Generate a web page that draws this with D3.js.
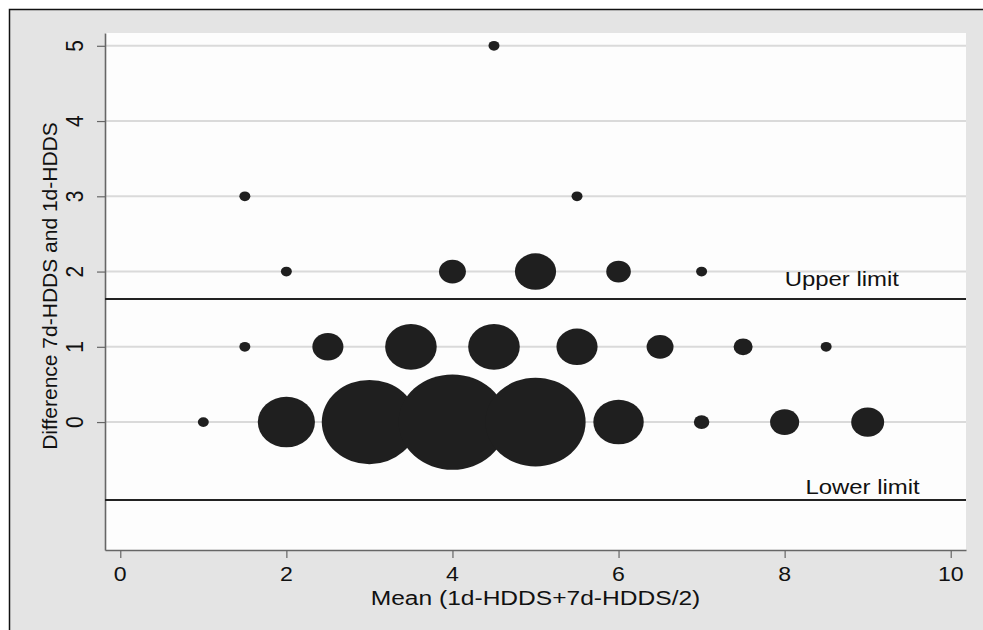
<!DOCTYPE html>
<html>
<head>
<meta charset="utf-8">
<script src="https://cdn.jsdelivr.net/npm/d3@7"></script>
<style>
  html, body { margin: 0; padding: 0; background: #fff; }
  text { font-family: "Liberation Sans", Arial, sans-serif; fill: #111; }
</style>
</head>
<body>
<div id="chart"></div>
<script>
// Bland-Altman points: mean of the two scores, difference, number of households
const meanScore = [1, 2, 3, 4, 5, 6, 7, 8, 9,
                   1.5, 2.5, 3.5, 4.5, 5.5, 6.5, 7.5, 8.5,
                   2, 4, 5, 6, 7,
                   1.5, 5.5,
                   4.5];
const diffScore = [0, 0, 0, 0, 0, 0, 0, 0, 0,
                   1, 1, 1, 1, 1, 1, 1, 1,
                   2, 2, 2, 2, 2,
                   3, 3,
                   5];
const freq      = [1, 27, 75, 96, 83, 21, 2, 7, 9,
                   1, 8, 22, 22, 14, 6, 3, 1,
                   1, 6, 14, 5, 1,
                   1, 1,
                   1];

const xTicks = [0, 2, 4, 6, 8, 10];
const yTicks = [0, 1, 2, 3, 4, 5];
const limits = [{ name: "Upper limit", value: 1.634, at: 8 },
                { name: "Lower limit", value: -1.036, at: 8.25 }];

const width = 983, height = 630;
const plot = { left: 105, right: 966, top: 33, bottom: 550 };

const svg = d3.select("#chart").append("svg")
    .attr("width", width)
    .attr("height", height);

// outer graph region
svg.append("rect")
    .attr("x", 9.5).attr("y", 9.5)
    .attr("width", 1000).attr("height", 1000)
    .attr("fill", "#e4e4e4")
    .attr("stroke", "#111")
    .attr("stroke-width", 1.5);

svg.append("rect")
    .attr("x", plot.left).attr("y", plot.top)
    .attr("width", plot.right - plot.left)
    .attr("height", plot.bottom - plot.top)
    .attr("fill", "#fdfdfd");

const x = d3.scaleLinear().domain([-0.184, 10.184]).range([plot.left, plot.right]);
const y = d3.scaleLinear().domain([-1.70, 5.17]).range([plot.bottom, plot.top]);
const r = d3.scaleSqrt().domain([0, 1]).range([0, 5.5]); // area ~ frequency

// grid lines
svg.append("g")
    .selectAll("line")
    .data(yTicks)
    .enter().append("line")
    .attr("x1", plot.left).attr("x2", plot.right)
    .attr("y1", d => y(d)).attr("y2", d => y(d))
    .attr("stroke", "#dadada")
    .attr("stroke-width", 2);

// axes
const xAxis = svg.append("g")
    .attr("transform", `translate(0,${plot.bottom})`)
    .call(d3.axisBottom(x).tickValues(xTicks).tickSize(8).tickSizeOuter(0).tickFormat(""));
const yAxis = svg.append("g")
    .attr("transform", `translate(${plot.left},0)`)
    .call(d3.axisLeft(y).tickValues(yTicks).tickSize(8).tickSizeOuter(0).tickFormat(""));
[xAxis, yAxis].forEach(a => {
    a.select(".domain").attr("stroke", "#666").attr("stroke-width", 1.6);
    a.selectAll(".tick line").attr("stroke", "#666").attr("stroke-width", 1.2);
});

// tick labels (the picture is stretched a bit sideways)
svg.append("g")
    .selectAll("text")
    .data(xTicks)
    .enter().append("text")
    .attr("transform", d => `translate(${x(d)},581) scale(1.1,1)`)
    .attr("text-anchor", "middle")
    .style("font-size", "21px")
    .text(d => d);

svg.append("g")
    .selectAll("text")
    .data(yTicks)
    .enter().append("text")
    .attr("transform", d => `translate(83,${y(d)}) rotate(-90) scale(1,1.1)`)
    .attr("text-anchor", "middle")
    .style("font-size", "21px")
    .text(d => d);

// bubbles
const pts = meanScore.map((m, i) => ({ m: m, d: diffScore[i], n: freq[i] }));
svg.append("g")
    .selectAll("ellipse")
    .data(pts)
    .enter().append("ellipse")
    .attr("cx", d => x(d.m))
    .attr("cy", d => y(d.d))
    .attr("rx", d => r(d.n))
    .attr("ry", d => r(d.n) * 0.885)
    .attr("fill", "#1f1f1f");

// limits of agreement
svg.append("g")
    .selectAll("line")
    .data(limits)
    .enter().append("line")
    .attr("x1", plot.left).attr("x2", plot.right)
    .attr("y1", d => y(d.value)).attr("y2", d => y(d.value))
    .attr("stroke", "#222")
    .attr("stroke-width", 2);

svg.append("g")
    .selectAll("text")
    .data(limits)
    .enter().append("text")
    .attr("transform", (d, i) => `translate(${x(d.at)},${y(d.value) - (i === 0 ? 13 : 6)}) scale(1.14,1)`)
    .style("font-size", "21px")
    .text(d => d.name);

// axis titles
svg.append("text")
    .attr("transform", `translate(${(plot.left + plot.right) / 2},605) scale(1.17,1)`)
    .attr("text-anchor", "middle")
    .style("font-size", "21px")
    .text("Mean (1d-HDDS+7d-HDDS/2)");

svg.append("text")
    .attr("transform", "translate(57,286) rotate(-90)")
    .attr("text-anchor", "middle")
    .style("font-size", "21px")
    .text("Difference 7d-HDDS and 1d-HDDS");
</script>
</body>
</html>
